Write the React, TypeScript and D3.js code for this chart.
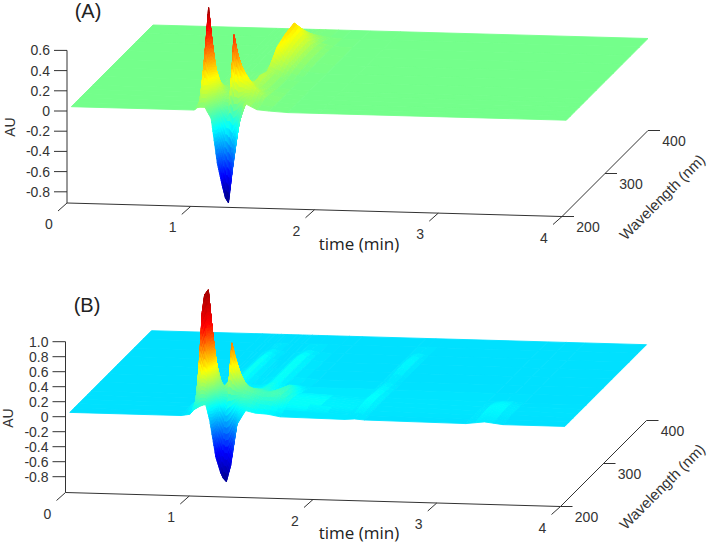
import React, { useEffect, useRef } from 'react';
import { select, scaleLinear, line, range } from 'd3';

// grids
const wavelengths = [210, 220, 230, 240, 250, 260, 280, 300, 320, 340, 360, 380, 400];
const timeTicks = [0, 1, 2, 3, 4];
const wavelengthTicks = [200, 300, 400];
const auTicksA = [0.6, 0.4, 0.2, 0, -0.2, -0.4, -0.6, -0.8];
const auTicksB = [1.0, 0.8, 0.6, 0.4, 0.2, 0, -0.2, -0.4, -0.6, -0.8];

const timesA = [0, 0.995, 1.0, 1.04, 1.08, 1.13, 1.18, 1.22, 1.245, 1.27, 1.3, 1.35, 1.4, 1.5, 1.6, 1.75, 2, 4];
const surfaceA = [
  [0, 0, 0.02, 0.03, 0.03, -0.08, -0.52, -0.74, -0.86, -0.91, -0.6, -0.15, 0.08, 0.02, 0.01, 0, 0, 0],
  [0, 0, 0.02, 0.2, 0.2, 0.05, -0.05, -0.15, -0.15, -0.2, -0.15, 0, 0.08, 0.02, 0.01, 0, 0, 0],
  [0, 0, 0.3, 0.93, 0.42, 0.15, 0.04, 0.08, 0.67, 0.5, 0.38, 0.26, 0.17, 0.05, 0.01, 0, 0, 0],
  [0, 0, 0.08, 0.42, 0.2, 0.08, 0.04, 0.04, 0.35, 0.3, 0.22, 0.16, 0.1, 0.04, 0.01, 0, 0, 0],
  [0, 0, 0.02, 0.12, 0.08, 0.05, 0.03, 0.03, 0.1, 0.12, 0.12, 0.1, 0.07, 0.03, 0.01, 0, 0, 0],
  [0, 0, 0, 0.03, 0.03, 0.03, 0.02, 0.02, 0.04, 0.05, 0.05, 0.14, 0.07, 0.02, 0.01, 0, 0, 0],
  [0, 0, 0, 0.01, 0.01, 0.01, 0.01, 0.01, 0.01, 0.01, 0.02, 0.1, 0.07, 0.02, 0, 0, 0, 0],
  [0, 0, 0, 0, 0, 0, 0, 0, 0.01, 0.02, 0.04, 0.25, 0.17, 0.05, 0.01, 0, 0, 0],
  [0, 0, 0, 0, 0, 0, 0, 0, 0.01, 0.02, 0.05, 0.3, 0.22, 0.07, 0.02, 0, 0, 0],
  [0, 0, 0, 0, 0, 0, 0, 0, 0.01, 0.02, 0.05, 0.32, 0.24, 0.07, 0.02, 0, 0, 0],
  [0, 0, 0, 0, 0, 0, 0, 0, 0, 0.01, 0.03, 0.17, 0.13, 0.04, 0.01, 0, 0, 0],
  [0, 0, 0, 0, 0, 0, 0, 0, 0, 0, 0, 0.03, 0.03, 0.01, 0, 0, 0, 0],
  [0, 0, 0, 0, 0, 0, 0, 0, 0, 0, 0, 0, 0, 0, 0, 0, 0, 0],
];

const timesB = [0, 0.9, 0.97, 1.0, 1.02, 1.05, 1.08, 1.1, 1.13, 1.18, 1.22, 1.24, 1.265, 1.3, 1.35, 1.42, 1.5, 1.6, 1.7, 2.22, 2.3, 2.38, 3.2, 3.35, 3.5, 4];
const surfaceB = [
  [0, 0, 0.02, 0.08, 0.1, 0.13, 0.15, 0.15, -0.05, -0.54, -0.75, -0.82, -0.865, -0.65, -0.1, 0.09, 0.06, 0.05, 0.02, 0.01, 0.02, 0.01, 0, 0.03, 0, 0],
  [0, 0, 0.05, 0.25, 0.4, 0.6, 0.55, 0.45, 0.3, 0.08, -0.05, -0.05, 0, 0.08, 0.2, 0.18, 0.12, 0.1, 0.05, 0.01, 0.04, 0.01, 0, 0.05, 0, 0],
  [0, 0.01, 0.1, 1.26, 1.5, 1.57, 1.03, 0.56, 0.36, 0.28, 0.37, 0.87, 0.7, 0.5, 0.3, 0.24, 0.2, 0.22, 0.1, 0.02, 0.06, 0.02, 0, 0.07, 0.01, 0],
  [0, 0, 0.02, 0.45, 0.75, 0.85, 0.55, 0.35, 0.25, 0.2, 0.2, 0.42, 0.38, 0.3, 0.22, 0.2, 0.17, 0.2, 0.1, 0.02, 0.08, 0.02, 0, 0.08, 0.01, 0],
  [0, 0, 0, 0.15, 0.25, 0.3, 0.22, 0.18, 0.15, 0.12, 0.12, 0.16, 0.18, 0.17, 0.15, 0.14, 0.12, 0.18, 0.08, 0.02, 0.09, 0.02, 0, 0.06, 0.01, 0],
  [0, 0, 0, 0.04, 0.08, 0.1, 0.1, 0.08, 0.09, 0.08, 0.07, 0.07, 0.07, 0.07, 0.07, 0.12, 0.07, 0.15, 0.05, 0.01, 0.08, 0.02, 0, 0.02, 0, 0],
  [0, 0, 0, 0.01, 0.02, 0.04, 0.05, 0.06, 0.08, 0.04, 0.02, 0.02, 0.02, 0.02, 0.03, 0.09, 0.03, 0.03, 0.01, 0.01, 0.05, 0.01, 0, 0, 0, 0],
  [0, 0, 0, 0, 0.01, 0.02, 0.04, 0.06, 0.1, 0.04, 0.01, 0.01, 0.01, 0.01, 0.02, 0.1, 0.02, 0.01, 0, 0, 0.02, 0, 0, 0, 0, 0],
  [0, 0, 0, 0, 0, 0.01, 0.04, 0.06, 0.1, 0.04, 0.01, 0.01, 0.01, 0.01, 0.02, 0.1, 0.02, 0.01, 0, 0, 0.06, 0, 0, 0, 0, 0],
  [0, 0, 0, 0, 0, 0.01, 0.03, 0.05, 0.08, 0.03, 0.01, 0, 0, 0, 0.02, 0.09, 0.02, 0, 0, 0, 0.07, 0, 0, 0, 0, 0],
  [0, 0, 0, 0, 0, 0, 0.01, 0.02, 0.03, 0.01, 0, 0, 0, 0, 0.01, 0.03, 0.01, 0, 0, 0, 0.03, 0, 0, 0, 0, 0],
  [0, 0, 0, 0, 0, 0, 0, 0, 0, 0, 0, 0, 0, 0, 0, 0, 0, 0, 0, 0, 0, 0, 0, 0, 0, 0],
  [0, 0, 0, 0, 0, 0, 0, 0, 0, 0, 0, 0, 0, 0, 0, 0, 0, 0, 0, 0, 0, 0, 0, 0, 0, 0],
];

const jetColors = ['#00007f', '#0000ff', '#00ffff', '#ffff00', '#ff0000', '#7f0000'];
const jetAuA = [-0.9, -0.67, -0.21, 0.25, 0.715, 0.946];
const jetAuB = [-0.9, -0.51, 0.07, 0.55, 1.1, 1.7];
const FONT = '"Liberation Sans", Arial, sans-serif';
const INK = '#333';

const drawPanel = (svg, p) => {
  const g = svg.append('g');
  const xT = scaleLinear().domain([0, 4]).range([p.x0, p.x0 + 495]);
  const yT = scaleLinear().domain([0, 4]).range([0, p.tDrop]);
  const wShift = scaleLinear().domain([200, 400]).range([0, 86]);
  const yA = scaleLinear().domain([0, 1]).range([p.y0, p.y0 - p.auPx]);
  const jet = scaleLinear().domain(p.jetAu).range(jetColors).clamp(true);

  const px = (t, w) => xT(t) + wShift(w);
  const py = (t, w, a) => yA(a) + yT(t) - wShift(w);
  const path = line();

  // surface, painted from the back row to the front row
  for (let j = wavelengths.length - 2; j >= 0; j--) {
    for (let i = 0; i < p.times.length - 1; i++) {
      const a00 = p.surface[j][i];
      const a10 = p.surface[j][i + 1];
      const a01 = p.surface[j + 1][i];
      const a11 = p.surface[j + 1][i + 1];
      const spread = Math.max(a00, a10, a01, a11) - Math.min(a00, a10, a01, a11);
      const n = spread === 0 ? 1 : Math.min(10, Math.ceil(spread / 0.04));
      const at = (u, v) => (a00 * (1 - u) + a10 * u) * (1 - v) + (a01 * (1 - u) + a11 * u) * v;
      const tAt = (u) => p.times[i] + u * (p.times[i + 1] - p.times[i]);
      const wAt = (v) => wavelengths[j] + v * (wavelengths[j + 1] - wavelengths[j]);
      range(n).reverse().forEach((vi) => {
        range(n).forEach((ui) => {
          const u0 = ui / n, u1 = (ui + 1) / n, v0 = vi / n, v1 = (vi + 1) / n;
          const corners = [[u0, v0], [u1, v0], [u1, v1], [u0, v1]];
          const c = jet(at((u0 + u1) / 2, (v0 + v1) / 2));
          g.append('path')
            .attr('d', path(corners.map(([u, v]) => [px(tAt(u), wAt(v)), py(tAt(u), wAt(v), at(u, v))])) + 'Z')
            .attr('fill', c)
            .attr('stroke', c)
            .attr('stroke-width', 0.9);
        });
      });
    }
  }

  const axis = g.append('g').attr('stroke', INK).attr('stroke-width', 1).attr('fill', 'none');
  const baseY = (t) => p.yBase + yT(t);
  const seg = (x1, y1, x2, y2) => axis.append('line').attr('x1', x1).attr('y1', y1).attr('x2', x2).attr('y2', y2);

  // AU axis
  seg(p.x0, yA(p.auTicks[0]), p.x0, p.yBase);
  p.auTicks.forEach((v) => seg(p.x0 - 13, yA(v), p.x0, yA(v)));
  // time axis
  seg(xT(0), baseY(0), xT(4), baseY(4));
  timeTicks.forEach((t) => seg(xT(t), baseY(t), xT(t) - 9, baseY(t) + 8));
  // wavelength axis
  seg(xT(4), baseY(4), xT(4) + wShift(400), baseY(4) - wShift(400));
  wavelengthTicks.forEach((w) => seg(xT(4) + wShift(w), baseY(4) - wShift(w), xT(4) + wShift(w) + 12, baseY(4) - wShift(w)));

  const label = (txt, x, y, size, anchor = 'middle', rot = 0, fill = INK, font = FONT) =>
    g.append('text').text(txt).attr('x', x).attr('y', y).attr('font-size', size).attr('font-family', font)
      .attr('fill', fill).attr('text-anchor', anchor).attr('dominant-baseline', 'central')
      .attr('transform', rot ? `rotate(${rot} ${x} ${y})` : null);

  p.auTicks.forEach((v) => label(v === 0 ? '0' : v.toFixed(1), p.x0 - 17, yA(v), 14, 'end'));
  timeTicks.forEach((t) => label(String(t), xT(t) - 18, baseY(t) + 21, 14));
  wavelengthTicks.forEach((w) => label(String(w), xT(4) + wShift(w) + 26, baseY(4) - wShift(w) + 10, 14));
  label('AU', p.auLabel[0], p.auLabel[1], 14, 'middle', -90);
  label('time (min)', p.timeLabel[0], p.timeLabel[1], 17, 'middle', 0, '#222', '"Open Sans", sans-serif');
  label('Wavelength (nm)', p.wlLabel[0], p.wlLabel[1], 15, 'middle', -45);
  label(p.name, p.nameAt[0], p.nameAt[1], 20, 'middle', 0, '#222');
};

const panelA = {
  name: '(A)', nameAt: [88, 11], times: timesA, surface: surfaceA, auTicks: auTicksA, jetAu: jetAuA,
  x0: 67, y0: 111, auPx: 101, yBase: 203, tDrop: 13.5,
  auLabel: [10, 127], timeLabel: [359, 243], wlLabel: [662, 197],
};
const panelB = {
  name: '(B)', nameAt: [87, 305], times: timesB, surface: surfaceB, auTicks: auTicksB, jetAu: jetAuB,
  x0: 65.5, y0: 416.7, auPx: 75, yBase: 492.5, tDrop: 14,
  auLabel: [8, 418], timeLabel: [359, 532], wlLabel: [662, 486.5],
};

const App = () => {
  const svgRef = useRef();

  useEffect(() => {
    const svg = select(svgRef.current);
    svg.selectAll('*').remove();
    drawPanel(svg, panelA);
    drawPanel(svg, panelB);
  }, []);

  return <svg ref={svgRef} width={709} height={544} style={{ position: 'absolute', left: 0, top: 0, background: '#fff' }} />;
};

export default App;
